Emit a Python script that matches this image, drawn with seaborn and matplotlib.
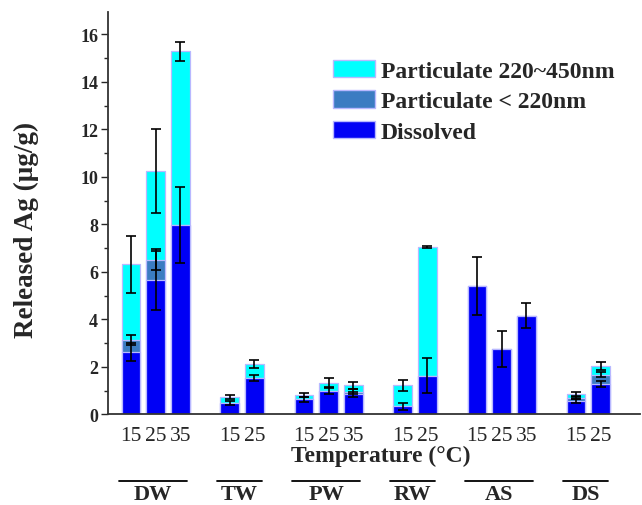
import numpy as np
import pandas as pd
import seaborn as sns
import matplotlib.pyplot as plt
import matplotlib.transforms as mtransforms
from matplotlib.patches import Patch
from matplotlib.ticker import MultipleLocator

# Data (µg/g), one entry per bar
groups = ['DW', 'DW', 'DW', 'TW', 'TW', 'PW', 'PW', 'PW', 'RW', 'RW', 'AS', 'AS', 'AS', 'DS', 'DS']
temps = ['15', '25', '35', '15', '25', '15', '25', '35', '15', '25', '15', '25', '35', '15', '25']

dissolved = [2.64, 5.64, 7.98, 0.48, 1.53, 0.64, 0.99, 0.84, 0.34, 1.63, 5.42, 2.76, 4.15, 0.55, 1.27]
part_220 = [0.50, 0.87, 0.0, 0.0, 0.0, 0.0, 0.0, 0.11, 0.0, 0.0, 0.0, 0.0, 0.0, 0.16, 0.41]
part_450 = [3.18, 3.73, 7.30, 0.24, 0.60, 0.18, 0.33, 0.27, 0.88, 5.42, 0.0, 0.0, 0.0, 0.13, 0.37]

err_dissolved = [0.38, 1.25, 1.60, 0.10, 0.12, 0.10, 0.15, 0.10, 0.14, 0.74, 1.22, 0.76, 0.52, 0.08, 0.12]
err_220 = [0.20, 0.45, 0.0, 0.0, 0.0, 0.0, 0.0, 0.10, 0.0, 0.0, 0.0, 0.0, 0.0, 0.08, 0.10]
err_450 = [1.20, 1.78, 0.40, 0.09, 0.17, 0.08, 0.20, 0.15, 0.23, 0.05, 0.0, 0.0, 0.0, 0.10, 0.17]

group_order = ['DW', 'TW', 'PW', 'RW', 'AS', 'DS']

c_diss = '#0000F5'
c_220 = '#3B7CC2'
c_450 = '#00FFFF'
edge = '#b8b8ff'

# bar slots: one empty slot between groups
pos = []
slot = 0
prev = groups[0]
for g in groups:
    if g != prev:
        slot += 1
        prev = g
    pos.append(slot)
    slot += 1

df = pd.DataFrame({'pos': pos, 'group': groups, 'temp': temps,
                   'dissolved': dissolved, 'p220': part_220, 'p450': part_450,
                   'e_d': err_dissolved, 'e_220': err_220, 'e_450': err_450})
df['top_d'] = df['dissolved']
df['top_220'] = df['dissolved'] + df['p220']
df['top_450'] = df['top_220'] + df['p450']

sns.set_style('ticks')
plt.rcParams['font.family'] = ['Liberation Serif', 'DejaVu Serif']

fig = plt.figure(figsize=(6.42, 5.06), dpi=100)
ax = fig.add_axes([0.168, 0.179, 0.829, 0.796])

# stacked bars drawn as overlapping cumulative totals
for col, color in [('top_450', c_450), ('top_220', c_220), ('top_d', c_diss)]:
    sns.barplot(data=df, x='pos', y=col, native_scale=True, width=0.75,
                color=color, saturation=1, edgecolor=edge, linewidth=0.9,
                errorbar=None, ax=ax)

# error bars at the top of each segment
for top, err in [('top_d', 'e_d'), ('top_220', 'e_220'), ('top_450', 'e_450')]:
    sub = df[df[err] > 0]
    if top == 'top_220':
        sub = sub[sub['p220'] > 0]
    if top == 'top_450':
        sub = sub[sub['p450'] > 0]
    ax.errorbar(sub['pos'], sub[top], yerr=sub[err], fmt='none', ecolor='black',
                elinewidth=1.2, capsize=3.4, capthick=1.2, zorder=4)

ax.set_xlim(-0.93, 20.6)
ax.yaxis.set_major_locator(MultipleLocator(2))
ax.yaxis.set_minor_locator(MultipleLocator(1))
ax.set_ylim(0, 16.95)
ax.tick_params(axis='y', which='major', direction='out', length=5, width=1, labelsize=13, pad=2)
ax.tick_params(axis='y', which='minor', direction='out', length=3, width=1)
ax.set_yticks(np.arange(0, 17, 2))
ax.set_yticklabels([str(v) for v in range(0, 17, 2)], fontweight='bold')

ax.set_xticks(df['pos'])
ax.set_xticklabels(df['temp'], fontsize=15.5)
ax.tick_params(axis='x', length=0, pad=8)

sns.despine(ax=ax)
for s in ['left', 'bottom']:
    ax.spines[s].set_color('#333333')
    ax.spines[s].set_linewidth(1.3)

ax.set_ylabel('Released Ag (μg/g)', fontsize=19.5, fontweight='bold')
ax.yaxis.set_label_coords(-0.13, 0.46)
ax.set_xlabel('Temperature (°C)', fontsize=17, fontweight='bold')
ax.xaxis.set_label_coords(0.513, -0.075)

# group labels with lines above them
trans = mtransforms.blended_transform_factory(ax.transData, ax.transAxes)
for g in group_order:
    p = df.loc[df['group'] == g, 'pos']
    n = len(p)
    center = p.mean() - 0.1
    half = 0.45 * n + 0.02
    ax.plot([center - half, center + half], [-0.165, -0.165], color='black',
            lw=1.3, transform=trans, clip_on=False)
    ax.text(center, -0.197, g, transform=trans, ha='center', va='center',
            fontsize=16, fontweight='bold')

handles = [Patch(facecolor=c_450, edgecolor=edge, label='Particulate 220~450nm'),
           Patch(facecolor=c_220, edgecolor=edge, label='Particulate < 220nm'),
           Patch(facecolor=c_diss, edgecolor=edge, label='Dissolved')]
ax.legend(handles=handles, loc='upper left', bbox_to_anchor=(0.423, 0.88),
          frameon=False, prop={'weight': 'bold', 'size': 17},
          borderpad=0, borderaxespad=0,
          handlelength=1.78, handleheight=0.76, handletextpad=0.25, labelspacing=0.36)

fig.savefig('out.png', dpi=100)
